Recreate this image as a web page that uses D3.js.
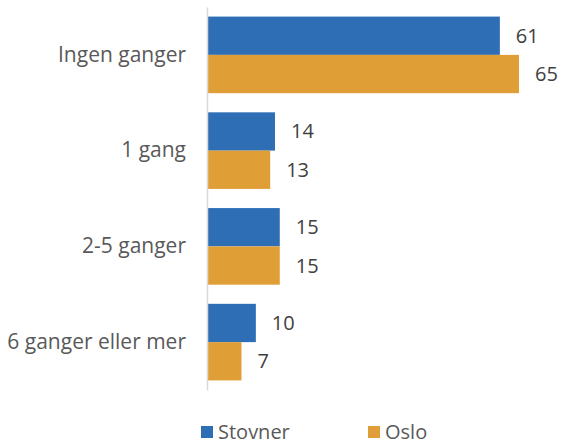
<!DOCTYPE html>
<html>
<head>
<meta charset="utf-8">
<script src="https://cdn.jsdelivr.net/npm/d3@7"></script>
<style>
  body { margin: 0; background: #fff; }
  text { font-family: "Open Sans", "Noto Sans", sans-serif; fill: #595959; }
</style>
</head>
<body>
<script>
var categories = ["Ingen ganger", "1 gang", "2-5 ganger", "6 ganger eller mer"];
var seriesNames = ["Stovner", "Oslo"];
var stovner = [61, 14, 15, 10];
var oslo = [65, 13, 15, 7];
var colors = ["#2E6EB5", "#E09E37"];

var width = 561, height = 447;

var svg = d3.select("body").append("svg")
  .attr("width", width)
  .attr("height", height);

var x = d3.scaleLinear()
  .domain([0, 65])
  .range([208, 519]);

var y = d3.scaleBand()
  .domain(categories)
  .range([7, 390])
  .paddingInner(0.2)
  .paddingOuter(0.1);

var sub = d3.scaleBand()
  .domain(seriesNames)
  .range([0, y.bandwidth()]);

var rows = categories.map(function (c, i) {
  return { cat: c, values: [
    { name: "Stovner", v: stovner[i] },
    { name: "Oslo", v: oslo[i] }
  ] };
});

var g = svg.selectAll("g.cat")
  .data(rows)
  .enter().append("g")
  .attr("class", "cat")
  .attr("transform", function (d) { return "translate(0," + y(d.cat) + ")"; });

g.selectAll("rect")
  .data(function (d) { return d.values; })
  .enter().append("rect")
  .attr("x", x(0))
  .attr("y", function (d) { return sub(d.name); })
  .attr("width", function (d) { return x(d.v) - x(0); })
  .attr("height", sub.bandwidth())
  .style("fill", function (d, i) { return colors[i]; });

g.selectAll("text.val")
  .data(function (d) { return d.values; })
  .enter().append("text")
  .attr("class", "val")
  .attr("x", function (d) { return x(d.v) + 16; })
  .attr("y", function (d) { return sub(d.name) + sub.bandwidth() / 2; })
  .attr("dy", "0.35em")
  .style("font-size", "20px")
  .style("fill", "#404040")
  .text(function (d) { return d.v; });

// category axis
var yAxis = svg.append("g")
  .attr("transform", "translate(207,0)")
  .call(d3.axisLeft(y).tickSize(0).tickPadding(21));
yAxis.select(".domain").attr("stroke", "#d9d9d9").attr("stroke-width", 1.5);
yAxis.selectAll("text")
  .style("font-size", "21px")
  .style("font-family", "'Open Sans', 'Noto Sans', sans-serif")
  .attr("fill", "#595959");

// legend
var legendX = [201, 368];
var legend = svg.selectAll("g.legend")
  .data(seriesNames)
  .enter().append("g")
  .attr("class", "legend")
  .attr("transform", function (d, i) { return "translate(" + legendX[i] + ",426)"; });

legend.append("rect")
  .attr("width", 12)
  .attr("height", 12)
  .style("fill", function (d, i) { return colors[i]; });

legend.append("text")
  .attr("x", 17)
  .attr("y", 6)
  .attr("dy", "0.35em")
  .style("font-size", "20px")
  .text(function (d) { return d; });
</script>
</body>
</html>
